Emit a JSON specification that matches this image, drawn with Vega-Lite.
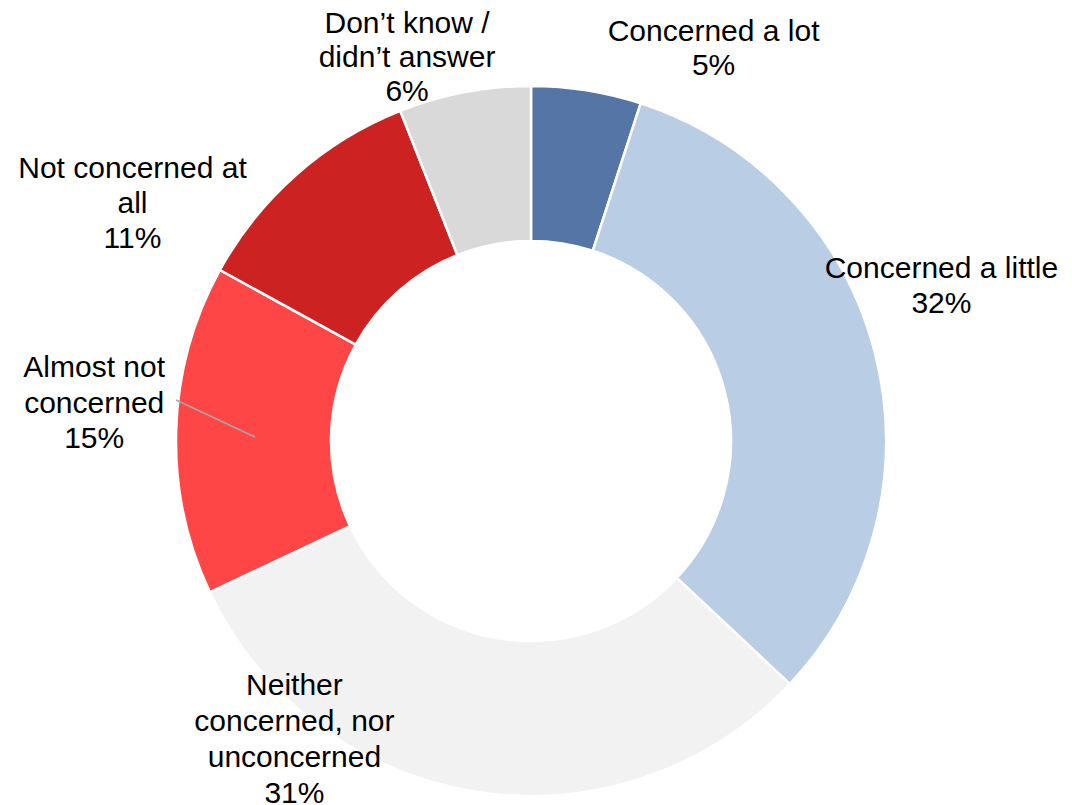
{
  "$schema": "https://vega.github.io/schema/vega-lite/v6.json",
  "width": 1062,
  "height": 728,
  "autosize": {"type": "none"},
  "padding": {"left": 0, "top": 77, "right": 10, "bottom": 0},
  "background": "white",
  "config": {"view": {"stroke": null}},
  "datasets": {
    "slices": [
      {"order": 1, "category": "Concerned a lot", "value": 5, "label": "Concerned a lot\n5%"},
      {"order": 2, "category": "Concerned a little", "value": 32, "label": "Concerned a little\n32%"},
      {"order": 3, "category": "Neither concerned, nor unconcerned", "value": 31, "label": "Neither\nconcerned, nor\nunconcerned\n31%"},
      {"order": 4, "category": "Almost not concerned", "value": 15, "label": "Almost not\nconcerned\n15%"},
      {"order": 5, "category": "Not concerned at all", "value": 11, "label": "Not concerned at\nall\n11%"},
      {"order": 6, "category": "Don't know / didn't answer", "value": 6, "label": "Don’t know /\ndidn’t answer\n6%"}
    ],
    "leader": [
      {"x": -1.0, "y": 0.1155, "x2": -0.7775, "y2": 0.0113}
    ]
  },
  "layer": [
    {
      "data": {"name": "slices"},
      "mark": {"type": "arc", "outerRadius": 355, "innerRadius": 200, "stroke": "white", "strokeWidth": 2.5},
      "encoding": {
        "theta": {"field": "value", "type": "quantitative", "stack": true},
        "order": {"field": "order", "type": "quantitative"},
        "color": {
          "field": "category",
          "type": "nominal",
          "legend": null,
          "scale": {
            "domain": ["Concerned a lot", "Concerned a little", "Neither concerned, nor unconcerned", "Almost not concerned", "Not concerned at all", "Don't know / didn't answer"],
            "range": ["#5475A6", "#B9CDE5", "#F2F2F2", "#FF4646", "#CC2222", "#D9D9D9"]
          }
        }
      }
    },
    {
      "data": {"name": "leader"},
      "mark": {"type": "rule", "color": "#A6A6A6", "strokeWidth": 1.5},
      "encoding": {
        "x": {"field": "x", "type": "quantitative", "axis": null, "scale": {"domain": [-1.4958, 1.4958]}},
        "y": {"field": "y", "type": "quantitative", "axis": null, "scale": {"domain": [-1.0254, 1.0254]}},
        "x2": {"field": "x2"},
        "y2": {"field": "y2"}
      }
    },
    {
      "data": {"name": "slices"},
      "mark": {"type": "text", "radius": 400, "dx": 120, "dy": -14, "font": "Liberation Sans", "fontSize": 30, "lineHeight": 34, "lineBreak": "\n", "align": "center", "baseline": "middle", "color": "black"},
      "encoding": {
        "theta": {"field": "value", "type": "quantitative", "stack": true},
        "order": {"field": "order", "type": "quantitative"},
        "text": {"condition": {"test": "datum.order === 1", "field": "label"}, "value": ""}
      }
    },
    {
      "data": {"name": "slices"},
      "mark": {"type": "text", "radius": 400, "dx": 23, "dy": -73, "font": "Liberation Sans", "fontSize": 30, "lineHeight": 35, "lineBreak": "\n", "align": "center", "baseline": "middle", "color": "black"},
      "encoding": {
        "theta": {"field": "value", "type": "quantitative", "stack": true},
        "order": {"field": "order", "type": "quantitative"},
        "text": {"condition": {"test": "datum.order === 2", "field": "label"}, "value": ""}
      }
    },
    {
      "data": {"name": "slices"},
      "mark": {"type": "text", "radius": 400, "dx": -174, "dy": -150, "font": "Liberation Sans", "fontSize": 30, "lineHeight": 36, "lineBreak": "\n", "align": "center", "baseline": "middle", "color": "black"},
      "encoding": {
        "theta": {"field": "value", "type": "quantitative", "stack": true},
        "order": {"field": "order", "type": "quantitative"},
        "text": {"condition": {"test": "datum.order === 3", "field": "label"}, "value": ""}
      }
    },
    {
      "data": {"name": "slices"},
      "mark": {"type": "text", "radius": 400, "dx": -37, "dy": -60, "font": "Liberation Sans", "fontSize": 30, "lineHeight": 35.5, "lineBreak": "\n", "align": "center", "baseline": "middle", "color": "black"},
      "encoding": {
        "theta": {"field": "value", "type": "quantitative", "stack": true},
        "order": {"field": "order", "type": "quantitative"},
        "text": {"condition": {"test": "datum.order === 4", "field": "label"}, "value": ""}
      }
    },
    {
      "data": {"name": "slices"},
      "mark": {"type": "text", "radius": 400, "dx": -134, "dy": 28, "font": "Liberation Sans", "fontSize": 30, "lineHeight": 35, "lineBreak": "\n", "align": "center", "baseline": "middle", "color": "black"},
      "encoding": {
        "theta": {"field": "value", "type": "quantitative", "stack": true},
        "order": {"field": "order", "type": "quantitative"},
        "text": {"condition": {"test": "datum.order === 5", "field": "label"}, "value": ""}
      }
    },
    {
      "data": {"name": "slices"},
      "mark": {"type": "text", "radius": 400, "dx": -49, "dy": -24, "font": "Liberation Sans", "fontSize": 30, "lineHeight": 34, "lineBreak": "\n", "align": "center", "baseline": "middle", "color": "black"},
      "encoding": {
        "theta": {"field": "value", "type": "quantitative", "stack": true},
        "order": {"field": "order", "type": "quantitative"},
        "text": {"condition": {"test": "datum.order === 6", "field": "label"}, "value": ""}
      }
    }
  ]
}
